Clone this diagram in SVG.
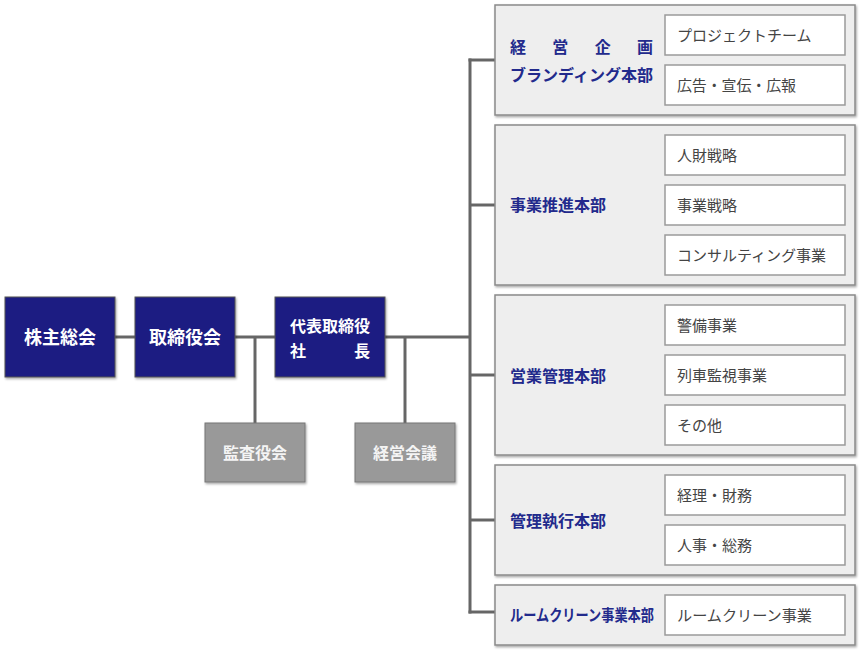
<svg xmlns="http://www.w3.org/2000/svg" width="860" height="650" viewBox="0 0 860 650">
<defs>
<filter id="sh" x="-10%" y="-10%" width="130%" height="130%">
<feDropShadow dx="1" dy="1.5" stdDeviation="1" flood-color="#000" flood-opacity="0.35"/>
</filter>
<style>
text{font-family:"Noto Sans CJK JP","Noto Sans",sans-serif;}
.top{fill:#1e1e82;stroke:#555;stroke-width:1;filter:url(#sh);}
.gray{fill:#999999;stroke:#777;stroke-width:1;filter:url(#sh);}
.panel{fill:#eeeeee;stroke:#8a8a8a;stroke-width:1.5;filter:url(#sh);}
.sub{fill:#ffffff;stroke:#9a9a9a;stroke-width:1.5;}
.tw{fill:#ffffff;font-weight:bold;font-size:18px;text-anchor:middle;dominant-baseline:central;}
.tw2{fill:#ffffff;font-weight:bold;font-size:16px;dominant-baseline:central;}
.tg{fill:#f4f4f4;font-weight:bold;font-size:16px;text-anchor:middle;dominant-baseline:central;}
.dept{fill:#222a8c;font-weight:bold;font-size:16px;dominant-baseline:central;}
.st{fill:#444444;font-size:15px;dominant-baseline:central;}
.ln{stroke:#666666;stroke-width:3;fill:none;}
</style>
</defs>

<g id="connectors">
<line class="ln" x1="115" y1="337" x2="135" y2="337"/>
<line class="ln" x1="235" y1="337" x2="275" y2="337"/>
<line class="ln" x1="255" y1="337" x2="255" y2="423"/>
<line class="ln" x1="385" y1="337" x2="470" y2="337"/>
<line class="ln" x1="405" y1="337" x2="405" y2="423"/>
<line class="ln" x1="470" y1="58.5" x2="470" y2="613.5"/>
<line class="ln" x1="468.5" y1="60" x2="495" y2="60"/>
<line class="ln" x1="470" y1="205" x2="495" y2="205"/>
<line class="ln" x1="470" y1="375" x2="495" y2="375"/>
<line class="ln" x1="470" y1="520" x2="495" y2="520"/>
<line class="ln" x1="468.5" y1="612" x2="495" y2="612"/>
</g>

<g id="kabunushi">
<rect class="top" x="5" y="297" width="110" height="80"/>
<text class="tw" x="60" y="336">株主総会</text>
</g>
<g id="torishimariyakukai">
<rect class="top" x="135" y="297" width="100" height="80"/>
<text class="tw" x="185" y="336">取締役会</text>
</g>
<g id="shacho">
<rect class="top" x="275" y="297" width="110" height="80"/>
<text class="tw2" x="290" y="325">代表取締役</text>
<text class="tw2" x="290" y="350">社</text>
<text class="tw2" x="354" y="350">長</text>
</g>
<g id="kansayakukai">
<rect class="gray" x="205" y="423" width="100" height="59"/>
<text class="tg" x="255" y="451.5">監査役会</text>
</g>
<g id="keieikaigi">
<rect class="gray" x="355" y="423" width="100" height="59"/>
<text class="tg" x="405" y="451.5">経営会議</text>
</g>

<g id="dept1">
<rect class="panel" x="495" y="5" width="360" height="110"/>
<text class="dept" x="510" y="46" textLength="143" lengthAdjust="spacing">経営企画</text>
<text class="dept" x="510" y="74" textLength="143" lengthAdjust="spacingAndGlyphs">ブランディング本部</text>
<rect class="sub" x="665" y="15" width="180" height="40"/>
<text class="st" x="677" y="34">プロジェクトチーム</text>
<rect class="sub" x="665" y="65" width="180" height="40"/>
<text class="st" x="677" y="84" textLength="119" lengthAdjust="spacing">広告・宣伝・広報</text>
</g>

<g id="dept2">
<rect class="panel" x="495" y="125" width="360" height="160"/>
<text class="dept" x="510" y="204">事業推進本部</text>
<rect class="sub" x="665" y="135" width="180" height="40"/>
<text class="st" x="677" y="154">人財戦略</text>
<rect class="sub" x="665" y="185" width="180" height="40"/>
<text class="st" x="677" y="204">事業戦略</text>
<rect class="sub" x="665" y="235" width="180" height="40"/>
<text class="st" x="677" y="254">コンサルティング事業</text>
</g>

<g id="dept3">
<rect class="panel" x="495" y="295" width="360" height="160"/>
<text class="dept" x="510" y="375">営業管理本部</text>
<rect class="sub" x="665" y="305" width="180" height="40"/>
<text class="st" x="677" y="324">警備事業</text>
<rect class="sub" x="665" y="355" width="180" height="40"/>
<text class="st" x="677" y="374">列車監視事業</text>
<rect class="sub" x="665" y="405" width="180" height="40"/>
<text class="st" x="677" y="424">その他</text>
</g>

<g id="dept4">
<rect class="panel" x="495" y="465" width="360" height="110"/>
<text class="dept" x="510" y="520">管理執行本部</text>
<rect class="sub" x="665" y="475" width="180" height="40"/>
<text class="st" x="677" y="494">経理・財務</text>
<rect class="sub" x="665" y="525" width="180" height="40"/>
<text class="st" x="677" y="544">人事・総務</text>
</g>

<g id="dept5">
<rect class="panel" x="495" y="585" width="360" height="60"/>
<text class="dept" x="510" y="614" textLength="144" lengthAdjust="spacingAndGlyphs">ルームクリーン事業本部</text>
<rect class="sub" x="665" y="595" width="180" height="40"/>
<text class="st" x="677" y="614" textLength="135" lengthAdjust="spacingAndGlyphs">ルームクリーン事業</text>
</g>
</svg>
